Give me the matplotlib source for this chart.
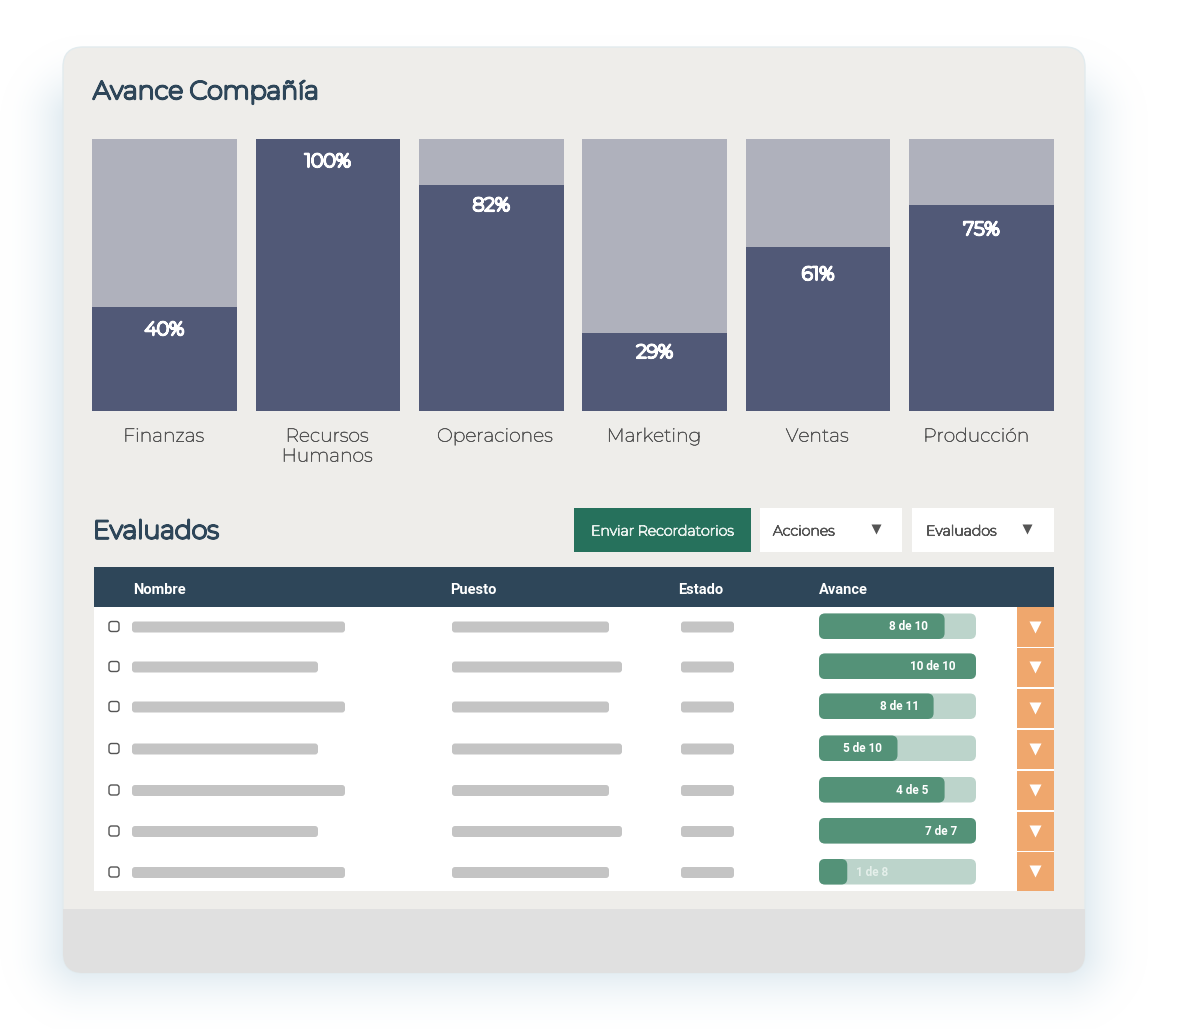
import matplotlib
matplotlib.use("Agg")
import matplotlib.pyplot as plt
import matplotlib.patheffects as pe
from matplotlib.patches import FancyBboxPatch, Rectangle
import numpy as np

# -- data
departments = ['Finanzas', 'Recursos\nHumanos', 'Operaciones', 'Marketing', 'Ventas', 'Producción']
percent_labels = ['40%', '100%', '82%', '29%', '61%', '75%']
bar_heights = [38.2, 100, 83.1, 28.7, 60.3, 75.7]
tick_shift = [-0.005, -0.005, 0.022, -0.005, -0.005, -0.033]
label_drop = [23, 23, 21, 20, 28, 25]

columns = ['Nombre', 'Puesto', 'Estado', 'Avance']
column_x = [134, 451, 679, 819]

row_y = [626.5, 666.5, 706.5, 748.5, 790, 831, 872]
name_len = [213, 186, 213, 186, 213, 186, 213]
job_len = [157, 170, 157, 170, 157, 170, 157]
done = [8, 10, 8, 5, 4, 7, 1]
total = [10, 10, 11, 10, 5, 7, 8]
fill_frac = [0.80, 1.0, 0.73, 0.50, 0.80, 1.0, 0.18]
label_x = [908, 933, 899, 862, 912, 941, 872]

orange_top = [607, 648, 689, 730, 771, 812, 852]
orange_bottom = [647, 687, 728, 769, 810, 851, 891]

NAVY = '#2e4659'
BAR = '#515977'
BAR_BG = '#afb1bc'
CARD = '#eeedea'
GREEN = '#549278'
GREEN_BG = '#bcd4cb'
GREY = '#c4c4c4'
ORANGE = '#efa76d'
TITLE_FONT = ['Montserrat', 'Inter', 'DejaVu Sans']
ROBOTO = ['Roboto', 'DejaVu Sans']


def rbox(ax, x0, y0, x1, y1, r, **kw):
    p = FancyBboxPatch((x0 + r, y0 + r), x1 - x0 - 2 * r, y1 - y0 - 2 * r,
                       boxstyle='round,pad=%f,rounding_size=%f' % (r, r), **kw)
    ax.add_patch(p)
    return p


def thick(color, lw):
    # the installed Montserrat only comes out thin, so fatten it with a stroke
    return [pe.withStroke(linewidth=lw, foreground=color)]


fig = plt.figure(figsize=(12, 10.29), dpi=100, facecolor='white')

# -- page layer in pixel coordinates
ui = fig.add_axes([0, 0, 1, 1])
ui.axis('off')

# -- soft shadow behind the card, fades with distance from a box under it
xx, yy = np.meshgrid(np.arange(1200) + 0.5, np.arange(1029) + 0.5)
dx = np.maximum(np.maximum(85 - xx, xx - 1063), 0)
dy = np.maximum(np.maximum(120 - yy, yy - 950), 0)
fade = np.clip(1 - np.hypot(dx, dy) / 85, 0, 1) ** 2
shadow = np.ones((1029, 1200, 3))
for c, v in enumerate((0.80, 0.87, 0.91)):
    shadow[:, :, c] = 1 - (1 - v) * fade
ui.imshow(shadow, extent=(0, 1200, 1029, 0), aspect='auto', interpolation='nearest', zorder=0)
ui.set_xlim(0, 1200)
ui.set_ylim(1029, 0)

card = rbox(ui, 63, 47, 1085, 973, 20, fc=CARD, ec='#e2ebee', lw=1)
footer = Rectangle((63, 909), 1022, 66, fc='#e0e0e0', ec='none')
ui.add_patch(footer)
footer.set_clip_path(card)

ui.text(93, 92.5, 'Avance Compañía', family=TITLE_FONT, fontsize=18.2, color=NAVY, va='center',
        path_effects=thick(NAVY, 1.7))
ui.text(93, 532, 'Evaluados', family=TITLE_FONT, fontsize=18.2, color=NAVY, va='center',
        path_effects=thick(NAVY, 1.7))

# -- buttons
ui.add_patch(Rectangle((574, 508), 177, 44, fc='#26715c', ec='none'))
ui.text(662, 532, 'Enviar Recordatorios', family=TITLE_FONT, fontsize=10.2,
        color='#e4eeea', ha='center', va='center', path_effects=thick('#e4eeea', 0.75))
for x0, x1, name, tx, arrow in [(760, 902, 'Acciones', 773, 876), (912, 1054, 'Evaluados', 926, 1027)]:
    ui.add_patch(Rectangle((x0, 508), x1 - x0, 44, fc='white', ec='none'))
    ui.text(tx, 532, name, family=TITLE_FONT, fontsize=10.2, color='#555555', va='center',
            path_effects=thick('#555555', 0.75))
    ui.plot(arrow, 529, marker='v', ms=7.5, color='#555555', mec='none')

# -- table
ui.add_patch(Rectangle((94, 607), 960, 284, fc='white', ec='none'))
ui.add_patch(Rectangle((94, 567), 960, 39.5, fc=NAVY, ec='none'))
for name, x in zip(columns, column_x):
    ui.text(x - 0.5, 589.5, name, family=ROBOTO, fontsize=10.5, fontweight='bold',
            color='white', va='center')

for i, y in enumerate(row_y):
    rbox(ui, 109, y - 5, 119, y + 5, 2.5, fc='white', ec='#555555', lw=1)
    rbox(ui, 132, y - 5, 132 + name_len[i], y + 6, 3, fc=GREY, ec='none')
    rbox(ui, 452, y - 5, 452 + job_len[i], y + 6, 3, fc=GREY, ec='none')
    rbox(ui, 681, y - 5, 734, y + 6, 3, fc=GREY, ec='none')

    rbox(ui, 819, y - 13, 976, y + 12.5, 6, fc=GREEN_BG, ec='none')
    rbox(ui, 819, y - 13, 819 + 157 * fill_frac[i], y + 12.5, 6, fc=GREEN, ec='none')
    txt_color = 'white' if done[i] > 1 else '#e4efea'
    ui.text(label_x[i], y + 0.5, '%d de %d' % (done[i], total[i]), family=ROBOTO,
            fontsize=8.5, fontweight='bold', color=txt_color, ha='center', va='center')

    ui.add_patch(Rectangle((1017, orange_top[i]), 37, orange_bottom[i] - orange_top[i],
                           fc=ORANGE, ec='none'))
    ui.plot(1035, (orange_top[i] + orange_bottom[i]) / 2 - 0.5, marker='v', ms=8, color='white', mec='none')

# -- stacked progress bars on their own scale
ax = fig.add_axes([92 / 1200, 1 - 411 / 1029, 962 / 1200, 272 / 1029])
ax.patch.set_alpha(0)
positions = list(range(len(departments)))
ax.bar(positions, [100] * len(positions), width=0.885, color=BAR_BG)
ax.bar(positions, bar_heights, width=0.885, color=BAR)
ax.set_xlim(-0.4435, 5.4435)
ax.set_ylim(0, 100)
for s in ax.spines.values():
    s.set_visible(False)
ax.set_yticks([])
ax.set_xticks([p + s for p, s in zip(positions, tick_shift)])
ax.set_xticklabels(departments, family=TITLE_FONT, fontsize=13.5, color='#555555', linespacing=1.14,
                   path_effects=thick('#555555', 0.4))
ax.tick_params(axis='x', length=0, pad=12)
for p, h, lab, drop in zip(positions, bar_heights, percent_labels, label_drop):
    ax.annotate(lab, (p, h), xytext=(0, -drop * 0.72), textcoords='offset points', ha='center',
                va='center', family=TITLE_FONT, fontsize=13.6, color='white',
                path_effects=thick('white', 1.6))

fig.savefig('out.png', dpi=100)
